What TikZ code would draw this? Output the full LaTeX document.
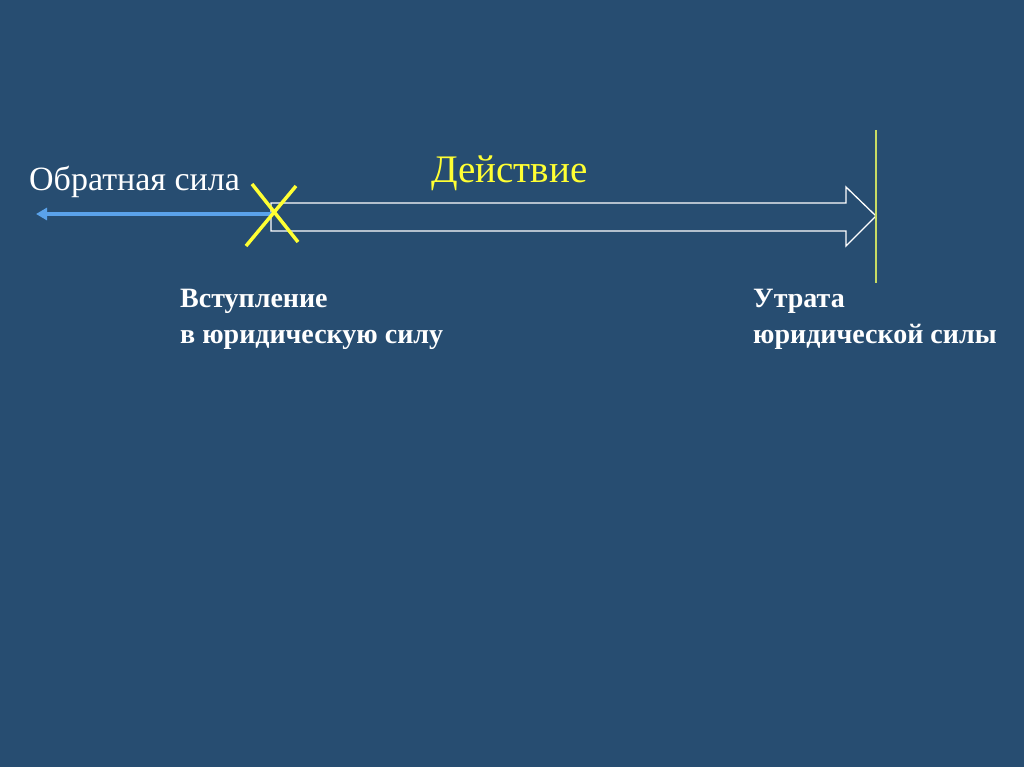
\documentclass[tikz,border=0pt]{standalone}
\usepackage{fontspec}
\setmainfont{Liberation Serif}
\usetikzlibrary{arrows.meta}
\definecolor{bg}{HTML}{274D71}
\definecolor{bluearr}{HTML}{5AA2EA}
\definecolor{yel}{HTML}{FFFF33}
\definecolor{limeline}{HTML}{C8DC64}
\begin{document}
\begin{tikzpicture}[x=1pt,y=-1pt,
  lbl/.style={inner sep=0pt,anchor=base west,text=white},
  boldlbl/.style={inner sep=0pt,anchor=base west,text=white,font=\fontsize{28}{36}\selectfont\bfseries,align=left}]
\fill[bg] (0,0) rectangle (1024,767);
\useasboundingbox (0,0) rectangle (1024,767);
% outlined arrow
\coordinate (start) at (273,216);
\coordinate (tip) at (876,216);
\draw[white,line width=1.3pt,line join=miter]
  (271,203) -- (846,203) -- (846,187) -- (876,216) -- (846,246) -- (846,231) -- (271,231) -- cycle;
% vertical line
\coordinate (vtop) at (876,130);
\coordinate (vbot) at (876,283);
\draw[limeline,line width=1.5pt] (vtop) -- (vbot);
% blue arrow
\coordinate (bend) at (36,214);
\draw[bluearr,line width=3.5pt,-{Triangle[length=11pt,width=12pt]}] (start |- bend) -- (bend);
% yellow X
\draw[yel,line width=3.5pt] (252,184) -- (298,242) (296,186) -- (246,246);
% texts
\node[lbl,font=\fontsize{34}{36}\selectfont] (retro) at (29,191) {Обратная сила};
\node[lbl,text=yel,font=\fontsize{39}{40}\selectfont] (act) at (431,183) {Действие};
\node[boldlbl] (entry) at (180,343) {Вступление\\в юридическую силу};
\node[boldlbl] (loss) at (753,343) {Утрата\\юридической силы};
\end{tikzpicture}
\end{document}
